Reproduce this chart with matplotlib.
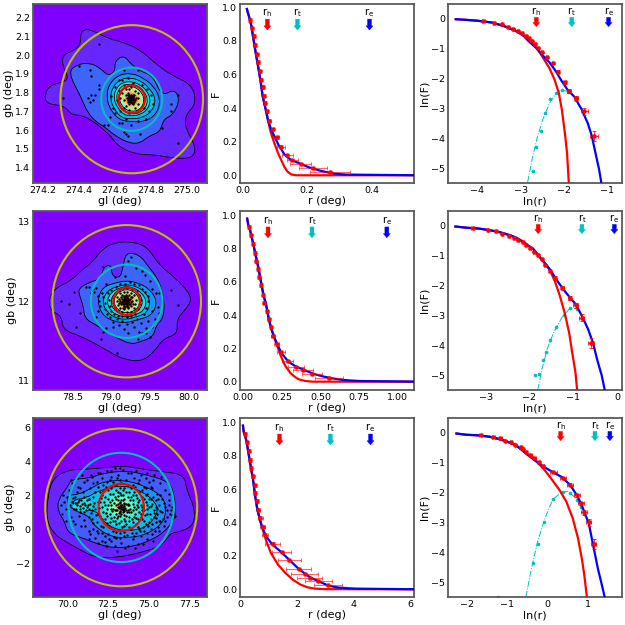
import matplotlib
matplotlib.use('Agg')
import matplotlib.pyplot as plt
import numpy as np
from matplotlib.patches import Circle, PathPatch
from matplotlib.path import Path

# sky panels: limits, ticks, circle centre and radii (tidal etc.)
CENTRES = [(274.693, 1.765), (79.2, 12.0), (73.3, 1.28)]
RADII = [(0.0736, 0.169, 0.395), (0.172, 0.461, 0.957), (1.39, 3.22, 4.65)]
SKY_XLIM = [(274.146, 275.11), (77.994, 80.234), (67.9, 78.55)]
SKY_YLIM = [(1.318, 2.273), (10.885, 13.134), (-4.0, 6.55)]
SKY_XTICKS = [[274.2, 274.4, 274.6, 274.8, 275.0], [78.5, 79.0, 79.5, 80.0], [70.0, 72.5, 75.0, 77.5]]
SKY_YTICKS = [[1.4, 1.5, 1.6, 1.7, 1.8, 1.9, 2.0, 2.1, 2.2], [11, 12, 13], [-2, 0, 2, 4, 6]]

LEVEL_COLOURS = [
    [.05, .13, .2, .27, .33, .4, .54, .68, .82, 1.0],
    [.05, .13, .2, .27, .33, .4, .54, .68, .82, 1.0],
    [.05, .12, .19, .27, .33, .38, .45, .56, .72, .92],
]
# how many contours get a black outline in each map
N_LINES = [7, 7, 4]

# outer density contours (gl, gb)
OUTER_1 = [
    [(274.21,1.79),(274.24,1.84),(274.33,1.86),(274.34,1.89),(274.31,1.94),(274.31,2.0),(274.36,2.02),(274.41,2.05),(274.41,2.13),(274.46,2.14),(274.56,2.09),(274.64,2.07),(274.74,2.03),(274.83,1.95),(274.92,1.89),(275.03,1.84),(275.05,1.74),(274.99,1.68),(274.99,1.61),(275.05,1.51),(275.03,1.45),(274.93,1.45),(274.81,1.47),(274.72,1.47),(274.62,1.51),(274.56,1.59),(274.43,1.68),(274.36,1.68),(274.32,1.73),(274.22,1.74)],
    [(274.39,1.95),(274.46,1.96),(274.52,1.93),(274.56,1.89),(274.60,1.91),(274.60,1.97),(274.65,2.0),(274.69,1.95),(274.75,1.91),(274.81,1.89),(274.86,1.78),(274.93,1.82),(274.96,1.76),(274.92,1.68),(274.87,1.66),(274.85,1.59),(274.79,1.57),(274.74,1.53),(274.68,1.53),(274.60,1.57),(274.54,1.62),(274.50,1.64),(274.45,1.69),(274.41,1.78),(274.34,1.91)],
]
OUTER_2 = [
    [(78.19,12.01),(78.27,12.16),(78.49,12.26),(78.64,12.41),(78.74,12.47),(78.89,12.66),(79.05,12.74),(79.28,12.75),(79.47,12.68),(79.62,12.45),(79.82,12.30),(80.03,12.08),(80.01,11.95),(79.84,11.78),(79.86,11.59),(79.67,11.53),(79.56,11.37),(79.39,11.24),(79.17,11.27),(79.02,11.34),(78.83,11.45),(78.59,11.57),(78.38,11.64),(78.36,11.82),(78.23,11.87)],
    [(78.58,12.16),(78.72,12.24),(78.87,12.28),(78.90,12.43),(79.0,12.46),(79.01,12.32),(79.11,12.29),(79.15,12.41),(79.19,12.62),(79.37,12.58),(79.47,12.45),(79.62,12.26),(79.69,11.99),(79.67,11.78),(79.58,11.70),(79.54,11.55),(79.37,11.49),(79.26,11.46),(79.09,11.53),(78.94,11.62),(78.81,11.70),(78.66,11.78),(78.64,11.95),(78.59,12.08)],
]
OUTER_3 = [
    [(68.82,2.02),(69.12,3.0),(70.04,3.49),(71.16,3.53),(72.59,3.65),(73.51,3.73),(74.63,3.53),(75.86,3.39),(77.18,3.2),(77.29,2.31),(77.80,1.24),(77.76,0.25),(76.98,-0.14),(76.27,-0.24),(75.86,-0.92),(74.84,-1.31),(72.90,-1.71),(71.67,-1.65),(70.96,-1.31),(70.04,-0.82),(69.22,-0.33),(68.71,0.55)],
    [(69.43,1.73),(70.04,2.51),(70.24,2.94),(71.37,3.0),(72.18,3.29),(73.61,3.45),(74.84,3.2),(76.27,2.80),(76.57,1.92),(76.63,0.94),(76.47,0.45),(75.86,-0.24),(74.94,-0.73),(74.02,-1.02),(72.90,-1.12),(71.98,-0.92),(70.96,-0.53),(70.04,-0.24),(69.84,0.45),(69.43,1.04)],
    [(70.04,2.02),(70.65,2.02),(71.47,2.41),(72.18,2.80),(73.51,2.90),(74.84,2.51),(75.86,1.92),(76.06,1.14),(75.86,0.35),(74.84,-0.33),(73.61,-0.53),(72.59,-0.43),(71.57,0.25),(71.37,0.75),(70.55,1.04),(70.04,1.43)],
    [(70.31,1.73),(71.16,1.82),(71.98,2.31),(73.41,2.61),(74.63,2.22),(75.45,1.53),(75.55,0.94),(74.84,0.06),(73.41,-0.14),(72.39,0.25),(71.98,0.94),(71.37,1.14),(70.45,1.24)],
]
# inner contours: radius at every 30 degrees around the centre
ANGLES = np.arange(0, 360, 30)
INNER_1 = [
    [.16,.14,.13,.14,.15,.15,.14,.13,.13,.12,.14,.16],
    [.135,.115,.11,.115,.125,.125,.12,.11,.115,.105,.115,.13],
    [.105,.095,.09,.095,.105,.105,.10,.09,.095,.09,.095,.105],
    [.09,.08,.08,.08,.09,.09,.085,.08,.08,.08,.085,.09],
    [.07,.065,.065,.07,.072,.072,.07,.065,.065,.065,.07,.07],
    [.056,.053,.052,.054,.056,.056,.055,.052,.052,.052,.054,.056],
    [.038,.036,.035,.037,.039,.04,.038,.036,.035,.035,.036,.038],
    [.022,.022,.02,.02,.022,.024,.022,.02,.02,.02,.02,.022],
]
INNER_2 = [
    [.40,.33,.27,.26,.27,.36,.38,.36,.30,.27,.27,.37],
    [.31,.26,.22,.21,.22,.28,.32,.29,.25,.23,.23,.30],
    [.26,.22,.19,.19,.19,.23,.26,.24,.21,.20,.20,.25],
    [.21,.19,.17,.17,.17,.19,.21,.20,.18,.17,.18,.20],
    [.17,.16,.15,.15,.15,.16,.17,.16,.15,.15,.15,.17],
    [.13,.13,.125,.125,.125,.13,.135,.13,.125,.125,.125,.13],
    [.09,.09,.085,.085,.09,.09,.09,.09,.085,.085,.085,.09],
    [.05,.05,.045,.045,.05,.05,.05,.05,.045,.045,.045,.05],
]
INNER_3 = [
    [1.7,1.5,1.2,1.15,1.2,1.4,1.6,1.4,1.2,1.1,1.2,1.5],
    [1.1,1.0,.9,.85,.9,1.0,1.2,.95,.8,.8,.85,1.0],
    [.8,.75,.7,.65,.7,.8,.9,.7,.6,.6,.65,.75],
    [.55,.5,.45,.45,.5,.55,.6,.5,.45,.4,.45,.5],
    [.32,.3,.28,.26,.28,.32,.34,.3,.26,.24,.26,.3],
    [.15,.14,.13,.13,.14,.15,.16,.14,.13,.12,.13,.14],
]
# the small cyan clump on the left of the third map
CLUMP_3 = [(71.6,1.4),(71.42,1.7),(71.1,1.8),(70.9,1.75),(70.6,1.7),(70.4,1.5),(70.3,1.3),(70.6,1.1),(70.9,1.05),(71.2,1.1),(71.45,1.2)]

STARS_1 = [(274.51,2.06),(274.31,1.77),(274.40,1.94),(274.46,1.92),(274.47,1.89),(274.51,1.84),(274.51,1.82),(274.45,1.77),(274.47,1.79),(274.49,1.79),(274.46,1.75),(274.48,1.76),(274.54,1.63),(274.56,1.63),(274.65,1.92),(274.73,1.92),(274.95,1.79),(274.91,1.74),(274.91,1.70),(274.86,1.61),(274.95,1.53),(274.65,1.59),(274.67,1.57),(274.66,1.58),(274.74,1.58),
    (274.58,1.78),(274.59,1.72),(274.57,1.67),(274.60,1.69),(274.62,1.64),(274.64,1.64),(274.60,1.83),(274.62,1.87),(274.64,1.87),(274.67,1.88),(274.70,1.85),(274.75,1.84),(274.78,1.82),(274.80,1.79),(274.81,1.74),(274.79,1.70),(274.77,1.66),(274.73,1.65),(274.69,1.63),(274.66,1.66),(274.63,1.70),(274.61,1.76),(274.62,1.81),(274.65,1.84),(274.69,1.83),(274.73,1.80),(274.76,1.76),(274.76,1.72),(274.72,1.70),(274.68,1.69),(274.65,1.72),
    (274.63,1.77),(274.64,1.80),(274.66,1.82),(274.68,1.82),(274.71,1.81),(274.73,1.77),(274.73,1.74),(274.71,1.72),(274.68,1.71),(274.66,1.73),(274.65,1.76),(274.66,1.79),(274.67,1.80),(274.70,1.79),(274.71,1.76),(274.70,1.74),(274.68,1.74),(274.67,1.75),(274.67,1.77),(274.68,1.79),(274.69,1.78),(274.70,1.77),(274.69,1.75),(274.68,1.76),(274.69,1.77),(274.69,1.76),(274.68,1.77),(274.70,1.76),(274.70,1.78),(274.68,1.78),(274.675,1.76),(274.685,1.75),(274.695,1.745),(274.705,1.75),(274.715,1.77),(274.705,1.785),(274.69,1.79),(274.675,1.785),(274.665,1.77),(274.69,1.765),(274.70,1.765),(274.685,1.77),(274.695,1.775),(274.685,1.76)]
STARS_2 = [(78.35,12.0),(78.46,11.96),(78.52,12.12),(78.60,11.85),(78.68,12.18),(78.72,12.18),(78.76,12.16),(78.78,12.12),(78.80,12.17),(78.74,12.1),(78.55,11.68),(78.80,11.80),(78.83,11.88),(78.87,11.52),(78.93,12.22),(78.90,12.43),(79.05,12.30),(79.18,12.32),(79.26,12.55),(79.22,12.51),(79.32,12.42),(79.40,12.38),(79.44,12.33),(79.50,12.25),(79.52,12.16),(79.58,12.10),(79.62,12.10),(79.77,12.14),(79.86,11.95),(79.60,11.93),(79.62,11.85),(79.52,11.88),(79.56,11.78),(79.48,11.75),(79.53,11.68),(79.45,11.60),(79.36,11.62),(79.30,11.68),(79.22,11.60),(79.17,11.65),(79.10,11.70),(79.02,11.68),(78.94,11.66),(79.08,11.35),(79.40,11.60),(79.50,11.55),(79.35,11.52),(78.90,11.62),(79.45,11.67),
    (78.83,12.06),(78.84,12.0),(78.86,11.94),(78.88,12.1),(78.90,12.05),(78.92,11.98),(78.92,11.9),(78.95,11.84),(78.98,11.8),(79.03,11.74),(79.08,11.78),(79.14,11.75),(79.2,11.72),(79.27,11.74),(79.33,11.78),(79.38,11.73),(79.42,11.84),(79.45,11.92),(79.47,12.0),(79.48,12.06),(79.44,12.12),(79.40,12.16),(79.36,12.2),(79.3,12.22),(79.24,12.24),(79.18,12.22),(79.12,12.22),(79.06,12.18),(79.0,12.14),(78.96,12.1),(78.97,12.02),(78.98,11.94),(79.0,11.88),(79.04,11.84),(79.09,11.82),(79.14,11.82),(79.2,11.8),(79.26,11.82),(79.31,11.84),(79.35,11.9),(79.37,11.96),(79.38,12.02),(79.36,12.08),(79.33,12.13),(79.27,12.16),(79.21,12.17),(79.15,12.17),(79.1,12.14),(79.05,12.1),(79.03,12.04),(79.03,11.98),(79.05,11.92),(79.09,11.88),(79.14,11.86),(79.2,11.86),(79.25,11.87),(79.29,11.91),(79.31,11.96),(79.32,12.02),(79.3,12.08),(79.26,12.11),(79.21,12.12),(79.16,12.12),(79.11,12.1),(79.08,12.05),(79.08,12.0),(79.09,11.95),(79.12,11.91),(79.17,11.9),(79.22,11.91),(79.26,11.94),(79.27,12.0),(79.25,12.05),(79.21,12.07),(79.17,12.07),(79.13,12.05),(79.12,12.0),(79.13,11.96),(79.16,11.94),(79.2,11.94),(79.23,11.97),(79.23,12.01),(79.2,12.04),(79.17,12.03),(79.15,12.0),(79.17,11.97),(79.2,11.98),(79.21,12.0),(79.19,12.01),(79.18,12.0),(79.2,12.02),(79.18,11.98),(79.16,12.02),(79.22,12.03),(79.22,11.99),(79.19,11.96),(79.17,12.0),(79.14,11.99),(79.2,12.0),(79.19,12.03),
    (79.18,12.05),(79.21,12.05),(79.24,12.03),(79.25,11.99),(79.24,11.96),(79.21,11.95),(79.18,11.93),(79.15,11.96),(79.13,11.98),(79.14,12.03),(79.16,12.05),(79.19,12.08),(79.23,12.08),(79.27,12.05),(79.28,11.97),(79.22,11.93),(79.15,11.92),(79.1,11.98),(79.1,12.03),(79.14,12.08)]
STARS_3 = [(69.8,1.6),(69.9,1.2),(70.0,1.9),(70.1,2.3),(70.2,0.7),(70.3,1.6),(70.3,2.7),(70.4,1.2),(70.5,1.9),(70.5,0.3),(70.6,1.4),(70.6,3.0),(70.7,1.7),(70.7,0.8),(70.8,1.2),(70.8,2.4),(70.9,1.5),(70.9,3.2),(71.0,1.0),(71.0,1.9),(71.1,1.4),(71.1,0.2),(71.2,1.7),(71.2,2.9),(71.3,1.2),(71.3,-0.1),(71.4,1.5),(71.4,2.4),(71.5,0.6),(71.5,3.1),(71.6,1.9),(71.6,0.0),(71.7,1.2),(71.7,-0.5),(71.8,2.8),(71.8,0.4),(71.9,1.6),(71.9,-0.2),(72.0,2.2),(72.0,0.8),(72.0,3.3),(72.1,-0.7),(72.1,1.3),(72.2,0.1),(72.2,2.6),(72.3,-0.4),(72.3,1.9),(72.3,0.6),(72.4,3.4),(72.4,-1.0),(72.4,1.2),(72.5,2.3),(72.5,0.2),(72.5,-0.3),(72.6,1.6),(72.6,2.9),(72.6,0.9),(72.7,-0.7),(72.7,1.4),(72.7,3.1),(72.8,0.5),(72.8,2.1),(72.8,-0.1),(72.9,1.1),(72.9,3.6),(72.9,-1.0),(73.0,1.8),(73.0,0.3),(73.0,2.6),(73.0,-0.5),(73.1,1.3),(73.1,0.8),(73.1,3.2),(73.1,2.2),(73.2,1.0),(73.2,1.6),(73.2,-0.2),(73.2,2.9),(73.3,1.2),(73.3,1.4),(73.3,0.5),(73.3,2.0),(73.3,-0.8),(73.4,1.3),(73.4,1.0),(73.4,1.7),(73.4,3.5),(73.5,1.2),(73.5,0.2),(73.5,2.4),(73.5,-0.4),(73.6,1.5),(73.6,0.8),(73.6,2.9),(73.7,1.1),(73.7,1.9),(73.7,-1.0),(73.8,0.5),(73.8,2.2),(73.8,1.4),(73.9,0.0),(73.9,3.3),(73.9,1.0),(74.0,1.7),(74.0,-0.6),(74.0,2.6),(74.1,0.7),(74.1,1.3),(74.1,3.0),(74.2,-0.2),(74.2,2.0),(74.2,0.3),(74.3,1.6),(74.3,-0.9),(74.3,2.7),(74.4,1.0),(74.4,0.0),(74.4,2.2),(74.5,1.4),(74.5,3.2),(74.5,-0.4),(74.6,0.6),(74.6,1.9),(74.7,-0.1),(74.7,2.5),(74.7,1.1),(74.8,0.3),(74.8,1.6),(74.8,3.0),(74.9,-0.6),(74.9,0.9),(74.9,2.1),(75.0,1.3),(75.0,2.8),(75.1,0.0),(75.1,1.8),(75.1,0.6),(75.2,2.4),(75.2,-0.3),(75.3,1.1),(75.3,3.2),(75.4,0.4),(75.4,1.7),(75.5,2.1),(75.5,0.9),(75.6,-0.1),(75.6,1.4),(75.7,2.7),(75.7,0.5),(75.8,1.8),(75.8,1.0),(75.9,0.2),(76.0,1.3),(76.0,2.3),(76.1,0.7),(76.2,1.7),(76.3,0.9),(76.4,1.3),(76.5,0.7),(76.6,0.8),
    (71.3,1.8),(71.5,1.1),(71.7,2.2),(71.9,0.9),(72.0,1.6),(72.1,2.0),(72.2,1.0),(72.3,1.4),(72.4,0.8),(72.5,1.8),(72.6,0.4),(72.7,2.4),(72.8,1.2),(72.9,1.9),(73.0,0.9),(73.1,1.7),(73.2,2.4),(73.3,0.9),(73.4,2.3),(73.5,1.5),(73.6,0.3),(73.7,1.4),(73.8,1.0),(73.9,1.9),(74.0,1.1),(74.1,2.2),(74.2,1.2),(74.3,0.6),(74.4,1.7),(74.5,0.9),(74.6,1.3),(74.7,0.5),(74.8,2.0),(74.9,1.4),(75.0,0.4),(75.2,1.5),(75.3,0.7),(75.5,1.2),
    (73.05,1.1),(73.1,1.5),(73.15,1.25),(73.2,1.35),(73.25,1.05),(73.25,1.55),(73.3,1.3),(73.35,1.2),(73.35,1.45),(73.4,1.15),(73.45,1.35),(73.5,1.05),(73.5,1.55),(73.55,1.25),(73.6,1.15),(73.15,0.95),(73.45,0.85),(73.3,1.7),(72.95,1.4),(73.7,1.5),(72.85,0.7),(73.85,1.7),(72.75,1.7),(73.95,0.6),(72.65,1.2),(74.05,2.0),(72.55,0.1),(74.15,0.9),(72.35,2.5),(74.25,1.4),
    (69.6,1.4),(69.7,0.9),(69.75,2.0),(70.15,1.4),(70.45,1.55),(70.55,1.2),(70.65,1.6),(70.75,1.35),(70.85,1.7),(70.95,1.25),(71.05,1.55),(71.15,1.15),(71.25,1.45),(71.35,1.75),(71.45,0.95),(71.55,1.35),(70.25,2.9),(70.65,2.5),(71.05,2.8),(71.45,3.2),(71.85,3.3),(72.15,3.0),(72.65,3.4),(73.2,3.6),(73.7,3.3),(74.2,3.4),(74.85,3.3),(75.25,2.9),(75.75,3.1),(76.25,2.1),(76.35,1.1),(76.55,0.9),(75.55,0.1),(75.25,-0.7),(74.65,-0.9),(74.15,-1.1),(73.55,-1.1),(73.05,-1.3),(72.35,-1.0),(71.85,-0.8),(71.35,-0.6),(70.85,0.2),(70.35,0.5),(69.95,0.5),
    (70.35,1.85),(70.55,1.55),(70.6,2.2),(70.75,1.0),(70.95,2.2),(71.05,0.55),(71.2,1.3),(71.3,0.7),(71.4,-0.3),(71.55,2.7),(71.6,0.35),(71.65,1.55),(71.75,0.85),(71.8,-0.1),(71.9,2.5),(71.95,1.25),(72.05,0.2),(72.05,1.85),(72.1,-0.25),(72.15,0.6),(72.2,2.25),(72.25,1.6),(72.3,-0.75),(72.35,0.95),(72.4,0.35),(72.45,2.75),(72.5,1.45),(72.55,-0.6),(72.6,2.05),(72.65,0.65),(72.7,0.05),(72.75,1.05),(72.8,2.75),(72.85,1.55),(72.85,-0.45),(72.9,0.45),(72.95,2.3),(73.0,1.15),(73.0,-0.15),(73.05,0.65),(73.05,3.0),(73.1,1.95),(73.15,0.35),(73.2,2.15),(73.2,-0.55),(73.25,0.75),(73.3,2.7),(73.35,0.15),(73.4,2.0),(73.45,0.6),(73.45,-0.15),(73.5,1.8),(73.55,0.5),(73.6,2.2),(73.65,-0.35),(73.65,1.0),(73.7,2.6),(73.75,0.7),(73.8,0.1),(73.85,1.2),(73.9,2.4),(73.95,-0.2),(74.0,0.4),(74.05,1.5),(74.1,-0.4),(74.15,2.5),(74.2,0.65),(74.25,1.85),(74.3,0.1),(74.35,1.3),(74.4,2.9),(74.45,-0.1),(74.5,0.7),(74.55,2.3),(74.6,1.1),(74.65,0.1),(74.7,1.75),(74.75,0.85),(74.8,2.4),(74.85,-0.2),(74.9,1.2),(74.95,0.2),(75.0,1.8),(75.05,0.9),(75.1,2.5),(75.15,1.35),(75.2,0.3),(75.25,1.9),(75.3,0.95),(75.35,-0.1),(75.4,1.3),(75.45,0.65),(75.55,1.8),(75.6,0.5),(75.65,1.05),(75.7,2.0),(75.85,0.6),(75.9,1.55),(76.0,0.5),(76.1,1.1),(76.25,1.4),(76.4,0.85)]

# radial profiles in the F and ln(F) panels
R_1 = [.021,.027,.032,.037,.042,.047,.051,.056,.06,.064,.069,.074,.081,.092,.104,.117,.1375,.153,.179,.217,.27]
F_1 = [.925,.875,.83,.775,.72,.675,.62,.57,.525,.475,.43,.38,.325,.275,.225,.17,.12,.09,.07,.045,.02]
R_ERR_1 = [.001,.001,.001,.001,.002,.002,.002,.002,.002,.003,.003,.004,.004,.005,.008,.012,.018,.018,.033,.043,.0625]
R_2 = [.037,.052,.063,.073,.084,.095,.104,.117,.125,.136,.151,.164,.179,.194,.216,.244,.287,.339,.389,.445,.557]
F_2 = [.93,.88,.83,.774,.724,.676,.63,.58,.524,.474,.424,.376,.326,.274,.224,.176,.126,.09,.07,.046,.02]
R_ERR_2 = [.002,.002,.003,.003,.003,.004,.004,.005,.005,.006,.007,.008,.009,.012,.015,.025,.038,.052,.065,.068,.09]
R_3 = [.19,.26,.31,.35,.40,.45,.51,.54,.59,.65,.72,.80,.88,1.15,1.46,1.74,2.06,2.27,2.45,2.75,3.11]
F_3 = [.93,.88,.83,.774,.726,.676,.622,.578,.528,.478,.428,.376,.328,.274,.224,.176,.124,.094,.07,.05,.024]
R_ERR_3 = [.01,.02,.02,.03,.03,.03,.03,.04,.05,.06,.09,.09,.1,.26,.35,.41,.45,.48,.45,.48,.49]
LNF_ERR = [.012,.012,.012,.014,.014,.016,.016,.018,.02,.02,.022,.024,.028,.03,.035,.045,.05,.06,.08,.11,.17]
LNR_ERR_1 = [.03,.02,.02,.02,.02,.02,.02,.02,.02,.02,.02,.02,.02,.02,.02,.02,.03,.05,.05,.08,.1]
LNR_ERR_2 = [.03,.02,.02,.02,.02,.02,.02,.02,.02,.02,.02,.02,.02,.02,.02,.02,.03,.03,.05,.06,.07]
LNR_ERR_3 = [.03,.03,.03,.02,.02,.02,.02,.02,.02,.03,.04,.04,.04,.08,.08,.08,.08,.07,.07,.07,.06]

BLUE_LNR_1 = [-4.50,-4.28,-4.0,-3.67,-3.50,-3.35,-3.23,-3.12,-3.02,-2.92,-2.81,-2.64,-2.56,-2.46,-2.33,-2.20,-2.05,-1.91,-1.76,-1.59,-1.45,-1.36,-1.26,-1.19,-1.14,-0.63]
BLUE_LNF_1 = [-.01,-.03,-.06,-.12,-.19,-.26,-.33,-.40,-.48,-.58,-.75,-.97,-1.12,-1.27,-1.47,-1.73,-2.09,-2.39,-2.61,-3.04,-3.50,-3.91,-4.58,-5.04,-5.47,-30]
RED_LNR_1 = [-4.50,-4.28,-4.0,-3.67,-3.50,-3.35,-3.23,-3.12,-3.02,-2.92,-2.81,-2.64,-2.56,-2.46,-2.34,-2.22,-2.12,-2.05,-1.98,-1.93,-1.89,-1.8,-0.63]
RED_LNF_1 = [-.01,-.03,-.06,-.12,-.19,-.26,-.33,-.40,-.48,-.58,-.75,-.97,-1.12,-1.36,-1.64,-2.03,-2.48,-3.04,-3.82,-4.49,-5.47,-20,-30]
TIDAL_LNR_1 = [-2.84,-2.72,-2.61,-2.49,-2.33,-2.18,-2.05,-1.92]
TIDAL_LNF_1 = [-5.47,-4.60,-3.93,-3.37,-2.81,-2.49,-2.37,-2.43]
DOT_LNR_1 = [-2.71,-2.64,-2.54,-2.44,-2.32,-2.19,-2.05,-1.91]
DOT_LNF_1 = [-5.10,-4.30,-3.76,-3.15,-2.69,-2.49,-2.39,-2.44]

BLUE_LNR_2 = [-3.69,-3.44,-3.15,-2.88,-2.68,-2.54,-2.41,-2.30,-2.20,-2.11,-2.02,-1.92,-1.80,-1.71,-1.61,-1.52,-1.40,-1.23,-1.08,-.94,-.78,-.66,-.55,-.44,-.35,-.28,.12]
BLUE_LNF_2 = [-.02,-.06,-.09,-.15,-.21,-.27,-.33,-.40,-.48,-.57,-.67,-.76,-.98,-1.14,-1.32,-1.48,-1.76,-2.12,-2.39,-2.63,-3.08,-3.46,-3.91,-4.55,-5.0,-5.5,-30]
RED_LNR_2 = [-3.69,-3.44,-3.15,-2.88,-2.68,-2.54,-2.41,-2.30,-2.20,-2.11,-2.02,-1.92,-1.80,-1.71,-1.61,-1.52,-1.42,-1.31,-1.19,-1.09,-1.02,-.95,-.91,-.8,.12]
RED_LNF_2 = [-.02,-.06,-.09,-.15,-.21,-.27,-.33,-.40,-.48,-.57,-.67,-.76,-.98,-1.14,-1.32,-1.52,-1.85,-2.32,-2.94,-3.60,-4.27,-4.89,-5.50,-20,-30]
TIDAL_LNR_2 = [-1.81,-1.71,-1.59,-1.44,-1.25,-1.09,-.94]
TIDAL_LNF_2 = [-5.5,-4.78,-4.11,-3.55,-3.05,-2.79,-2.77]
DOT_LNR_2 = [-1.88,-1.78,-1.70,-1.62,-1.52,-1.39,-1.22,-1.07,-.92]
DOT_LNF_2 = [-5.0,-4.97,-4.48,-4.22,-3.83,-3.40,-2.97,-2.75,-2.77]

BLUE_LNR_3 = [-2.26,-2.03,-1.74,-1.43,-1.22,-1.05,-.93,-.79,-.64,-.50,-.36,-.25,-.08,.12,.35,.56,.72,.83,.91,1.02,1.14,1.24,1.34,1.41,1.84]
BLUE_LNF_3 = [-.02,-.06,-.08,-.13,-.20,-.27,-.33,-.41,-.57,-.73,-.87,-.99,-1.15,-1.31,-1.48,-1.75,-2.09,-2.38,-2.66,-3.05,-3.86,-4.53,-5.09,-5.5,-30]
RED_LNR_3 = [-2.26,-2.03,-1.74,-1.43,-1.22,-1.05,-.93,-.79,-.64,-.50,-.36,-.25,-.08,.08,.29,.46,.62,.75,.85,.91,.97,1.1,1.84]
RED_LNF_3 = [-.02,-.06,-.08,-.13,-.20,-.27,-.33,-.41,-.57,-.73,-.87,-.99,-1.24,-1.52,-1.91,-2.30,-2.86,-3.53,-4.25,-4.81,-5.5,-7,-30]
TIDAL_LNR_3 = [-.54,-.41,-.25,-.08,.12,.33,.50,.70,.87]
TIDAL_LNF_3 = [-5.5,-4.59,-3.64,-2.91,-2.24,-2.0,-1.96,-2.19,-2.63]
DOT_LNR_3 = [-1.22,-.36,-.24,-.10,.14,.38,.56,.73,.83,.90]
DOT_LNF_3 = [-5.5,-4.37,-3.72,-2.98,-2.21,-1.98,-2.02,-2.24,-2.49,-2.71]

# arrow x positions for r_h, r_t, r_e
LIN_ARROWS = [(.075, .169, .394), (.16, .445, .93), (1.39, 3.18, 4.59)]
LN_ARROWS = [(-2.64, -1.82, -.97), (-1.8, -.8, -.06), (.32, 1.17, 1.54)]
LIN_XLIM = [(-.0104, .533), (-.0216, 1.106), (0, 6.12)]
LIN_XTICKS = [[0.0, 0.2, 0.4], [0.0, .25, .5, .75, 1.0], [0, 2, 4, 6]]
LIN_YLIM = [(-.046, 1.02), (-.05, 1.026), (-.046, 1.026)]
LN_XLIM = [(-4.68, -.66), (-3.86, .115), (-2.47, 1.84)]
LN_XTICKS = [[-4, -3, -2, -1], [-3, -2, -1, 0], [-2, -1, 0, 1]]

TICK_SIZE = 6.8
LABEL_SIZE = 8
ROW_TOPS = [4, 211, 418]
COL_LEFTS = [33, 240, 448]
W, H = 174, 179


def smooth_patch(points, **kw):
    # closed quadratic spline through the midpoints of the read vertices
    p = np.asarray(points, dtype=float)
    mids = (p + np.roll(p, -1, axis=0)) / 2
    verts = [mids[-1]]
    codes = [Path.MOVETO]
    for v, m in zip(p, mids):
        verts += [v, m]
        codes += [Path.CURVE3, Path.CURVE3]
    return PathPatch(Path(verts, codes), **kw)


def style(ax, xlabel, ylabel):
    ax.set_xlabel(xlabel, fontsize=LABEL_SIZE, labelpad=1)
    ax.set_ylabel(ylabel, fontsize=LABEL_SIZE, labelpad=1)
    ax.tick_params(labelsize=TICK_SIZE, length=0, pad=2)
    for s in ax.spines.values():
        s.set_linewidth(1.3)
        s.set_color('#5a5a5a')


def arrows(ax, xs, y0, y1, ytext):
    for x, c, name in zip(xs, ['r', 'c', 'b'], ['h', 't', 'e']):
        ax.annotate('', xy=(x, y1), xytext=(x, y0),
                    arrowprops=dict(facecolor=c, edgecolor=c, width=2.8, headwidth=5, headlength=3, lw=0.3))
        ax.text(x, ytext, 'r$_{\\mathrm{%s}}$' % name, ha='center', va='center', fontsize=7.2)


fig = plt.figure(figsize=(6.25, 6.25), dpi=100)
outer = [OUTER_1, OUTER_2, OUTER_3]
inner = [INNER_1, INNER_2, INNER_3]
stars = [STARS_1, STARS_2, STARS_3]
r_pts = [R_1, R_2, R_3]
f_pts = [F_1, F_2, F_3]
r_errs = [R_ERR_1, R_ERR_2, R_ERR_3]
lnr_errs = [LNR_ERR_1, LNR_ERR_2, LNR_ERR_3]
blue = [(BLUE_LNR_1, BLUE_LNF_1), (BLUE_LNR_2, BLUE_LNF_2), (BLUE_LNR_3, BLUE_LNF_3)]
red = [(RED_LNR_1, RED_LNF_1), (RED_LNR_2, RED_LNF_2), (RED_LNR_3, RED_LNF_3)]
tidal = [(TIDAL_LNR_1, TIDAL_LNF_1), (TIDAL_LNR_2, TIDAL_LNF_2), (TIDAL_LNR_3, TIDAL_LNF_3)]
dots = [(DOT_LNR_1, DOT_LNF_1), (DOT_LNR_2, DOT_LNF_2), (DOT_LNR_3, DOT_LNF_3)]

for i in range(3):
    bottom = 1 - (ROW_TOPS[i] + H) / 625
    ax1 = fig.add_axes([COL_LEFTS[0] / 625, bottom, W / 625, H / 625])
    ax2 = fig.add_axes([COL_LEFTS[1] / 625, bottom, W / 625, H / 625])
    ax3 = fig.add_axes([COL_LEFTS[2] / 625, bottom, W / 625, H / 625])

    # density map
    ax1.set_facecolor(plt.cm.rainbow(0.0))
    cx, cy = CENTRES[i]
    polys = list(outer[i])
    th = np.radians(ANGLES)
    for rad in inner[i]:
        polys.append(np.column_stack([cx + np.array(rad) * np.cos(th), cy + np.array(rad) * np.sin(th)]))
    n_in = len(outer[i])
    for k, poly in enumerate(polys):
        col = plt.cm.rainbow(LEVEL_COLOURS[i][k])
        edge = 'k' if k < N_LINES[i] else 'none'
        ax1.add_patch(smooth_patch(poly, facecolor=col, edgecolor=edge, lw=0.6, zorder=2))
        if i == 2 and k == n_in:
            ax1.add_patch(smooth_patch(CLUMP_3, facecolor=col, edgecolor='none', zorder=2))
    st = np.array(stars[i])
    ax1.plot(st[:, 0], st[:, 1], 'o', color='k', ms=1.7, mew=0, zorder=3)
    for rad, c in zip(RADII[i], ['r', 'c', 'y']):
        ax1.add_patch(Circle((cx, cy), rad, fill=False, ec=c, lw=1.5, zorder=4))
    ax1.set_xlim(SKY_XLIM[i])
    ax1.set_ylim(SKY_YLIM[i])
    ax1.set_xticks(SKY_XTICKS[i])
    ax1.set_yticks(SKY_YTICKS[i])
    style(ax1, 'gl (deg)', 'gb (deg)')

    r = np.array(r_pts[i])
    f = np.array(f_pts[i])
    lnf_err = np.array(LNF_ERR)

    # linear profile
    for (lnr, lnf), c in zip([red[i], blue[i]], ['r', 'b']):
        ax2.plot(np.exp(lnr), np.exp(lnf), color=c, lw=1.6, zorder=3)
    ax2.plot(r, f, 'o', color='r', alpha=0.3, ms=4, mew=0, zorder=4)
    ax2.errorbar(r, f, xerr=r_errs[i], yerr=f * lnf_err, fmt='o', ms=2, color='r',
                 ecolor=(1, 0, 0, 0.6), elinewidth=0.8, capsize=1.5, capthick=0.7, zorder=5)
    ax2.set_xlim(LIN_XLIM[i])
    ax2.set_ylim(LIN_YLIM[i])
    ax2.set_xticks(LIN_XTICKS[i])
    ax2.set_yticks([0, .2, .4, .6, .8, 1.0])
    arrows(ax2, LIN_ARROWS[i], .93, .865, .97)
    style(ax2, 'r (deg)', 'F')

    # log profile
    ax3.plot(red[i][0], red[i][1], color='r', lw=1.6, zorder=3)
    ax3.plot(blue[i][0], blue[i][1], color='b', lw=1.6, zorder=3)
    ax3.plot(tidal[i][0], tidal[i][1], '-.', color='c', lw=0.7, zorder=2)
    ax3.plot(dots[i][0], dots[i][1], 'o', color='c', ms=2.6, mew=0, zorder=2)
    ax3.plot(np.log(r), np.log(f), 'o', color='r', alpha=0.3, ms=4, mew=0, zorder=4)
    ax3.errorbar(np.log(r), np.log(f), xerr=lnr_errs[i], yerr=lnf_err, fmt='o', ms=2, color='r',
                 ecolor=(1, 0, 0, 0.8), elinewidth=0.8, capsize=1.2, capthick=0.7, zorder=5)
    ax3.set_xlim(LN_XLIM[i])
    ax3.set_ylim(-5.5, 0.5)
    ax3.set_xticks(LN_XTICKS[i])
    ax3.set_yticks([-5, -4, -3, -2, -1, 0])
    arrows(ax3, LN_ARROWS[i], .05, -.26, .25)
    style(ax3, 'ln(r)', 'ln(F)')

fig.savefig('out.png', dpi=100)
